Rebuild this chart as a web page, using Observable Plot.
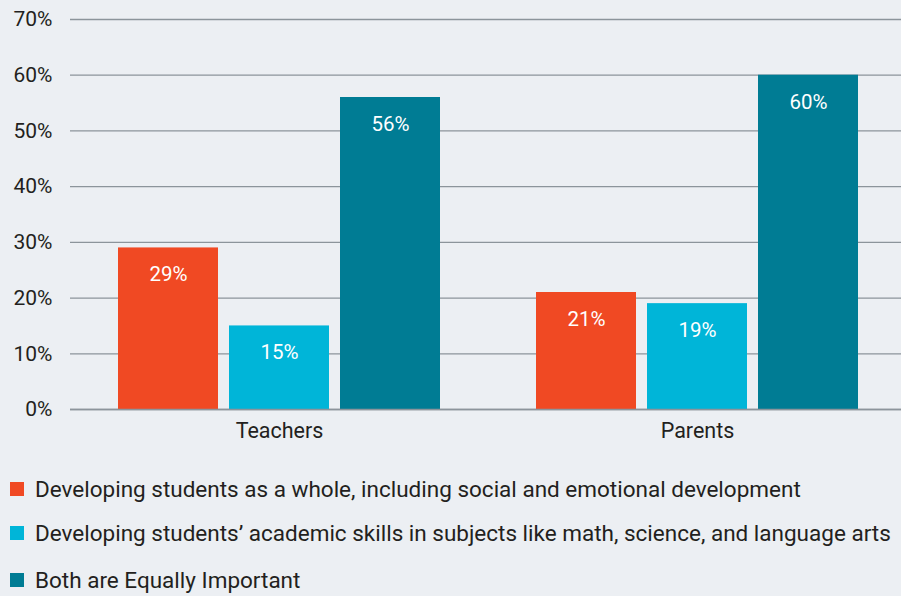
<!DOCTYPE html>
<html>
<head>
<meta charset="utf-8">
<script src="https://cdn.jsdelivr.net/npm/d3@7"></script>
<script src="https://cdn.jsdelivr.net/npm/@observablehq/plot@0.6"></script>
<style>
  html, body { margin: 0; padding: 0; background: #eceff3; }
  body { width: 901px; height: 596px; overflow: hidden; font-family: Roboto, "Noto Sans", sans-serif; color: #231f20; }
  #chart svg { display: block; }
  .legend { margin: 0; padding: 0; }
  .legend .item { position: absolute; left: 10px; display: flex; align-items: center; font-size: 22.5px; white-space: nowrap; }
  .legend .sw { width: 14px; height: 14px; margin-right: 11px; flex: none; }
</style>
</head>
<body>
<div id="chart"></div>
<div class="legend" id="legend"></div>
<script>
const groups = ["Teachers", "Parents"];
const seriesNames = [
  "Developing students as a whole, including social and emotional development",
  "Developing students’ academic skills in subjects like math, science, and language arts",
  "Both are Equally Important"
];
const wholeChild = [29, 21];
const academic = [15, 19];
const bothEqual = [56, 60];
const colors = ["#f04923", "#00b5d8", "#007c94"];
const yTicks = [0, 10, 20, 30, 40, 50, 60, 70];

const seriesValues = [wholeChild, academic, bothEqual];
const data = [];
groups.forEach((g, gi) => {
  seriesNames.forEach((s, si) => {
    data.push({group: g, series: s, value: seriesValues[si][gi]});
  });
});

const chart = Plot.plot({
  width: 901,
  height: 455,
  marginLeft: 70,
  marginRight: -5,
  marginTop: 19,
  marginBottom: 46,
  style: {background: "transparent", fontFamily: "Roboto, sans-serif", color: "#231f20", overflow: "hidden"},
  fx: {domain: groups, padding: 0, label: null},
  x: {domain: seriesNames, paddingInner: 0.1, paddingOuter: 0.42, axis: null},
  y: {domain: [0, 70], axis: null},
  color: {domain: seriesNames, range: colors},
  marks: [
    Plot.ruleY(yTicks, {stroke: "#8c949b", strokeWidth: 1.3}),
    Plot.barY(data, {fx: "group", x: "series", y: "value", fill: "series"}),
    Plot.ruleY([0], {stroke: "#8c949b", strokeWidth: 1.5}),
    Plot.text(data, {fx: "group", x: "series", y: "value", text: d => d.value + "%", dy: 27, fill: "white", fontSize: 20.5}),
    Plot.axisY({ticks: yTicks, tickSize: 0, tickPadding: 18, tickFormat: d => d + "%", fontSize: 21, label: null, fill: "#231f20"}),
    Plot.axisFx({anchor: "bottom", tickSize: 0, tickPadding: 13, fontSize: 21.5, label: null, fill: "#231f20"})
  ]
});
document.getElementById("chart").appendChild(chart);

const legend = document.getElementById("legend");
const tops = [489, 533, 580];
seriesNames.forEach((s, i) => {
  const item = document.createElement("div");
  item.className = "item";
  item.style.top = (tops[i] - 13) + "px";
  item.style.height = "26px";
  const sw = document.createElement("span");
  sw.className = "sw";
  sw.style.background = colors[i];
  const t = document.createElement("span");
  t.textContent = s;
  item.appendChild(sw);
  item.appendChild(t);
  legend.appendChild(item);
});
</script>
</body>
</html>
